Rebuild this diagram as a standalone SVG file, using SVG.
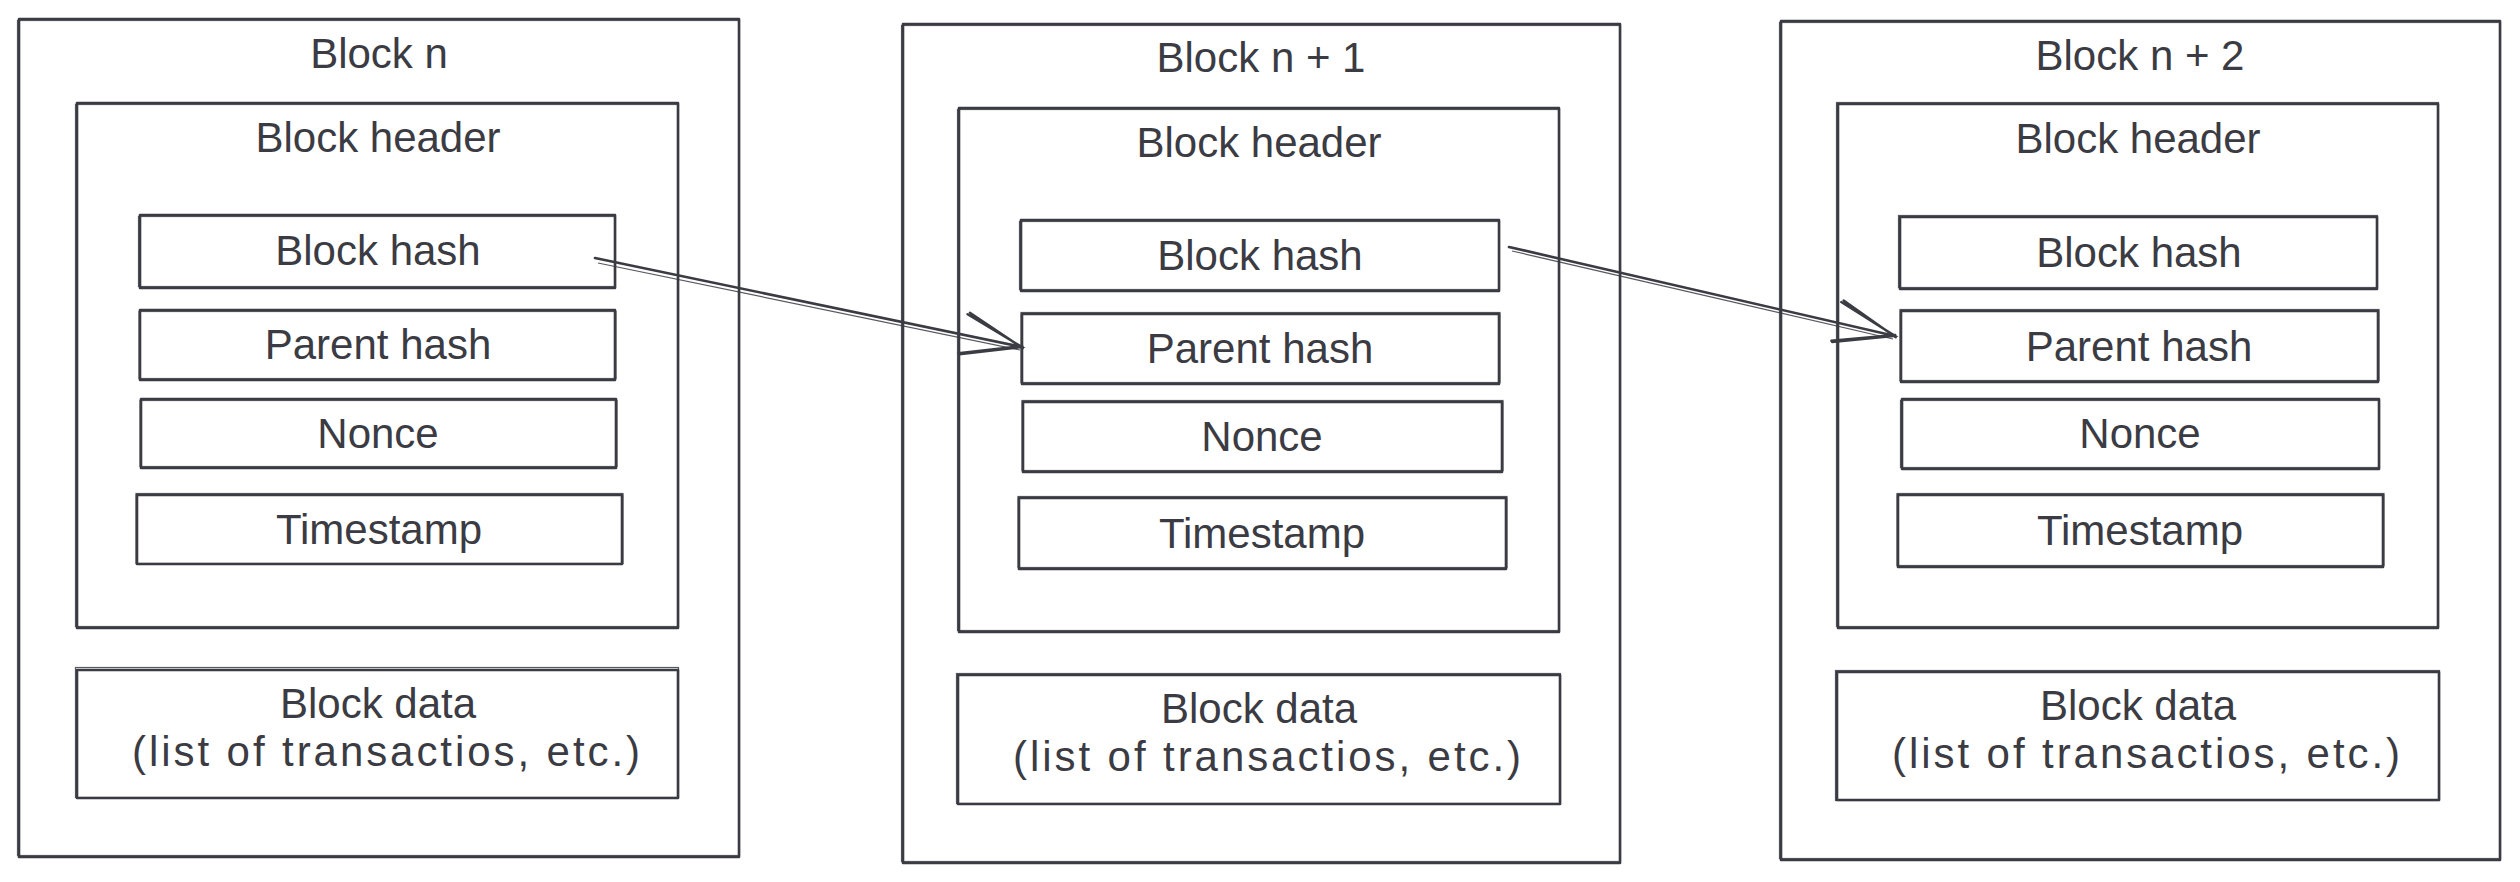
<svg xmlns="http://www.w3.org/2000/svg" width="2520" height="882" viewBox="0 0 2520 882">
<style>
.s{fill:none;stroke:#3b3b43;stroke-width:2.6;stroke-linecap:round;stroke-linejoin:round}
.s2{fill:none;stroke:#3b3b43;stroke-width:1.2;opacity:0.85}
text{font-family:"Liberation Sans",Arial,sans-serif;font-size:42px;fill:#3b3b43;text-anchor:middle}
</style>
<defs>
<marker id="ah" markerUnits="userSpaceOnUse" markerWidth="80" markerHeight="60" refX="0" refY="0" viewBox="-70 -30 80 60" orient="auto" overflow="visible">
<path d="M-60,-21 L0,0 L-60,20 M-58,-23 L1,1 M-61,19 L0,-1" fill="none" stroke="#3b3b43" stroke-width="2.4" stroke-linecap="round"/>
</marker>
</defs>
<rect width="2520" height="882" fill="#ffffff"/>

<g id="block-n">
<rect class="s" x="19" y="19" width="720" height="838"/>
<rect class="s2" x="17.5" y="20.5" width="722" height="835"/>
<text x="379" y="68">Block n</text>
<g id="header-n">
<rect class="s" x="77" y="103" width="601" height="525"/>
<rect class="s2" x="75.5" y="104.5" width="603" height="522"/>
<text x="378" y="152">Block header</text>
</g>
<g id="blockhash-n"><rect class="s" x="140" y="215" width="475" height="73"/><rect class="s2" x="138.5" y="216.5" width="477" height="70"/><text x="378" y="265">Block hash</text></g>
<g id="parenthash-n"><rect class="s" x="140" y="310" width="475" height="70"/><rect class="s2" x="139" y="311.5" width="477" height="67"/><text x="378" y="359">Parent hash</text></g>
<g id="nonce-n"><rect class="s" x="141" y="399" width="475" height="69"/><rect class="s2" x="140" y="400.5" width="477" height="66"/><text x="378" y="448">Nonce</text></g>
<g id="timestamp-n"><rect class="s" x="137" y="495" width="485" height="69"/><rect class="s2" x="136" y="493.5" width="487" height="70"/><text x="379" y="544">Timestamp</text></g>
<g id="data-n"><rect class="s" x="77" y="670" width="601" height="128"/><rect class="s2" x="75.5" y="667.5" width="603" height="130"/><text x="378" y="718">Block data</text><text x="386" y="766" textLength="508" lengthAdjust="spacing">(list of transactios, etc.)</text></g>
</g>

<g id="block-n1">
<rect class="s" x="903" y="24" width="717" height="839"/>
<rect class="s2" x="901.5" y="25.5" width="719" height="836"/>
<text x="1261" y="72">Block n + 1</text>
<g id="header-n1">
<rect class="s" x="959" y="108" width="600" height="524"/>
<rect class="s2" x="957.5" y="109.5" width="602" height="521"/>
<text x="1259" y="157">Block header</text>
</g>
<g id="blockhash-n1"><rect class="s" x="1021" y="220" width="478" height="71"/><rect class="s2" x="1019.5" y="221.5" width="480" height="68"/><text x="1260" y="270">Block hash</text></g>
<g id="parenthash-n1"><rect class="s" x="1022" y="314" width="477" height="70"/><rect class="s2" x="1021" y="312.5" width="479" height="70"/><text x="1260" y="363">Parent hash</text></g>
<g id="nonce-n1"><rect class="s" x="1023" y="402" width="479" height="70"/><rect class="s2" x="1022" y="400.5" width="481" height="70"/><text x="1262" y="451">Nonce</text></g>
<g id="timestamp-n1"><rect class="s" x="1019" y="498" width="487" height="71"/><rect class="s2" x="1018" y="496.5" width="489" height="71"/><text x="1262" y="548">Timestamp</text></g>
<g id="data-n1"><rect class="s" x="958" y="675" width="602" height="129"/><rect class="s2" x="956.5" y="673.5" width="604" height="130"/><text x="1259" y="723">Block data</text><text x="1267" y="771" textLength="508" lengthAdjust="spacing">(list of transactios, etc.)</text></g>
</g>

<g id="block-n2">
<rect class="s" x="1781" y="21" width="719" height="839"/>
<rect class="s2" x="1779.5" y="22.5" width="721" height="836"/>
<text x="2140" y="70">Block n + 2</text>
<g id="header-n2">
<rect class="s" x="1838" y="104" width="600" height="524"/>
<rect class="s2" x="1836.5" y="102.5" width="602" height="524"/>
<text x="2138" y="153">Block header</text>
</g>
<g id="blockhash-n2"><rect class="s" x="1900" y="217" width="477" height="72"/><rect class="s2" x="1898.5" y="215.5" width="479" height="72"/><text x="2139" y="267">Block hash</text></g>
<g id="parenthash-n2"><rect class="s" x="1901" y="311" width="477" height="71"/><rect class="s2" x="1900" y="309.5" width="479" height="71"/><text x="2139" y="361">Parent hash</text></g>
<g id="nonce-n2"><rect class="s" x="1902" y="399" width="477" height="70"/><rect class="s2" x="1900.5" y="400.5" width="479" height="67"/><text x="2140" y="448">Nonce</text></g>
<g id="timestamp-n2"><rect class="s" x="1898" y="495" width="485" height="72"/><rect class="s2" x="1897" y="493.5" width="487" height="72"/><text x="2140" y="545">Timestamp</text></g>
<g id="data-n2"><rect class="s" x="1837" y="672" width="602" height="128"/><rect class="s2" x="1835.5" y="670.5" width="604" height="130"/><text x="2138" y="720">Block data</text><text x="2146" y="768" textLength="508" lengthAdjust="spacing">(list of transactios, etc.)</text></g>
</g>

<g id="connectors">
<path class="s" d="M595,258 L1022,347" marker-end="url(#ah)"/>
<path class="s2" d="M598,263 L1020,350"/>
<path class="s" d="M1509,247 L1895,336" marker-end="url(#ah)"/>
<path class="s2" d="M1512,251 L1893,339"/>
</g>
</svg>
